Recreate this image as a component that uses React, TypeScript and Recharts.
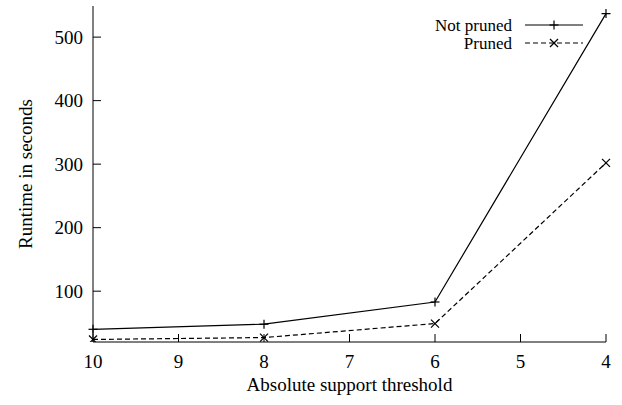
import { LineChart, Line, XAxis, YAxis, Legend } from "recharts";

// absolute support threshold (x axis runs from 10 down to 4)
const thresholds = [10, 8, 6, 4];
const notPruned = [40, 48, 83, 537];
const pruned = [24, 27, 49, 302];

const xTicks = [10, 9, 8, 7, 6, 5, 4];
const yTicks = [100, 200, 300, 400, 500];

const FONT = "Liberation Serif, Times New Roman, Tinos, Noto Serif, DejaVu Serif, serif";

const data = thresholds.map((t, i) => ({
  threshold: t,
  notPruned: notPruned[i],
  pruned: pruned[i],
}));

const PlusDot = (props: any) => {
  const { cx, cy } = props;
  if (cx == null || cy == null) return null;
  return (
    <g stroke="#000" strokeWidth={1.2}>
      <line x1={cx - 4.5} y1={cy} x2={cx + 4.5} y2={cy} />
      <line x1={cx} y1={cy - 4.5} x2={cx} y2={cy + 4.5} />
    </g>
  );
};

const CrossDot = (props: any) => {
  const { cx, cy } = props;
  if (cx == null || cy == null) return null;
  return (
    <g stroke="#000" strokeWidth={1.2}>
      <line x1={cx - 4} y1={cy - 4} x2={cx + 4} y2={cy + 4} />
      <line x1={cx - 4} y1={cy + 4} x2={cx + 4} y2={cy - 4} />
    </g>
  );
};

const KeyBox = ({ payload }: any) => {
  const items = payload ?? [];
  return (
    <svg width={622} height={60} style={{ display: "block", fontFamily: FONT }}>
      {items.map((p: any, i: number) => {
        const y = 25 + i * 18;
        const dashed = p.dataKey === "pruned";
        return (
          <g key={p.dataKey}>
            <text
              x={512}
              y={y}
              dy="0.33em"
              textAnchor="end"
              style={{ fontFamily: FONT }}
              fontSize={17}
              fill="#000"
            >
              {p.value}
            </text>
            <line
              x1={525}
              y1={y}
              x2={583}
              y2={y}
              stroke="#000"
              strokeWidth={1}
              strokeDasharray={dashed ? "5 3" : undefined}
            />
            {dashed ? <CrossDot cx={554} cy={y} /> : <PlusDot cx={554} cy={y} />}
          </g>
        );
      })}
    </svg>
  );
};

export default function App() {
  const axisStroke = { stroke: "#000", strokeWidth: 1 };
  const tickStyle = { style: { fontFamily: FONT }, fontSize: 19, fill: "#000" };
  return (
    <div style={{ position: "absolute", left: 0, top: 0, background: "#fff", fontFamily: FONT }}>
      <LineChart
        width={622}
        height={405}
        data={data}
        margin={{ top: 6, right: 16, bottom: 0, left: 0 }}
        style={{ fontFamily: FONT }}
      >
        <XAxis
          xAxisId="bottom"
          dataKey="threshold"
          type="number"
          domain={[4, 10]}
          reversed
          ticks={xTicks}
          interval={0}
          height={63}
          tickSize={-8}
          tickMargin={21}
          tick={tickStyle}
          tickLine={axisStroke}
          axisLine={axisStroke}
          label={{
            value: "Absolute support threshold",
            position: "insideBottom",
            offset: 14,
            style: { fontFamily: FONT, fontSize: 19, fill: "#000" },
          }}
        />
        <XAxis
          xAxisId="top"
          orientation="top"
          dataKey="threshold"
          type="number"
          domain={[4, 10]}
          reversed
          ticks={xTicks}
          interval={0}
          height={0}
          tickSize={-8}
          tick={false}
          tickLine={axisStroke}
          axisLine={axisStroke}
        />
        <YAxis
          yAxisId="left"
          type="number"
          domain={[20, 549]}
          allowDataOverflow
          ticks={yTicks}
          interval={0}
          width={93}
          tickSize={-8}
          tickMargin={18}
          tick={tickStyle}
          tickLine={axisStroke}
          axisLine={axisStroke}
          label={(props: any) => {
            const vb = props.viewBox ?? { y: 6, height: 336 };
            const cy = vb.y + vb.height / 2;
            return (
              <text
                x={25}
                y={cy}
                transform={`rotate(-90, 25, ${cy})`}
                textAnchor="middle"
                dominantBaseline="central"
                style={{ fontFamily: FONT }}
                fontSize={19}
                fill="#000"
              >
                Runtime in seconds
              </text>
            );
          }}
        />
        <YAxis
          yAxisId="right"
          orientation="right"
          type="number"
          domain={[20, 549]}
          allowDataOverflow
          ticks={yTicks}
          interval={0}
          width={0}
          tickSize={-8}
          tick={false}
          tickLine={axisStroke}
          axisLine={axisStroke}
        />
        <Legend
          layout="vertical"
          align="center"
          verticalAlign="middle"
          wrapperStyle={{ top: 0, left: 0, width: 622, height: 60 }}
          content={<KeyBox />}
        />
        <Line
          xAxisId="bottom"
          yAxisId="left"
          name="Not pruned"
          dataKey="notPruned"
          stroke="#000"
          strokeWidth={1.2}
          dot={<PlusDot />}
          activeDot={false}
          isAnimationActive={false}
        />
        <Line
          xAxisId="bottom"
          yAxisId="left"
          name="Pruned"
          dataKey="pruned"
          stroke="#000"
          strokeWidth={1.2}
          strokeDasharray="5 3"
          dot={<CrossDot />}
          activeDot={false}
          isAnimationActive={false}
        />
      </LineChart>
    </div>
  );
}
